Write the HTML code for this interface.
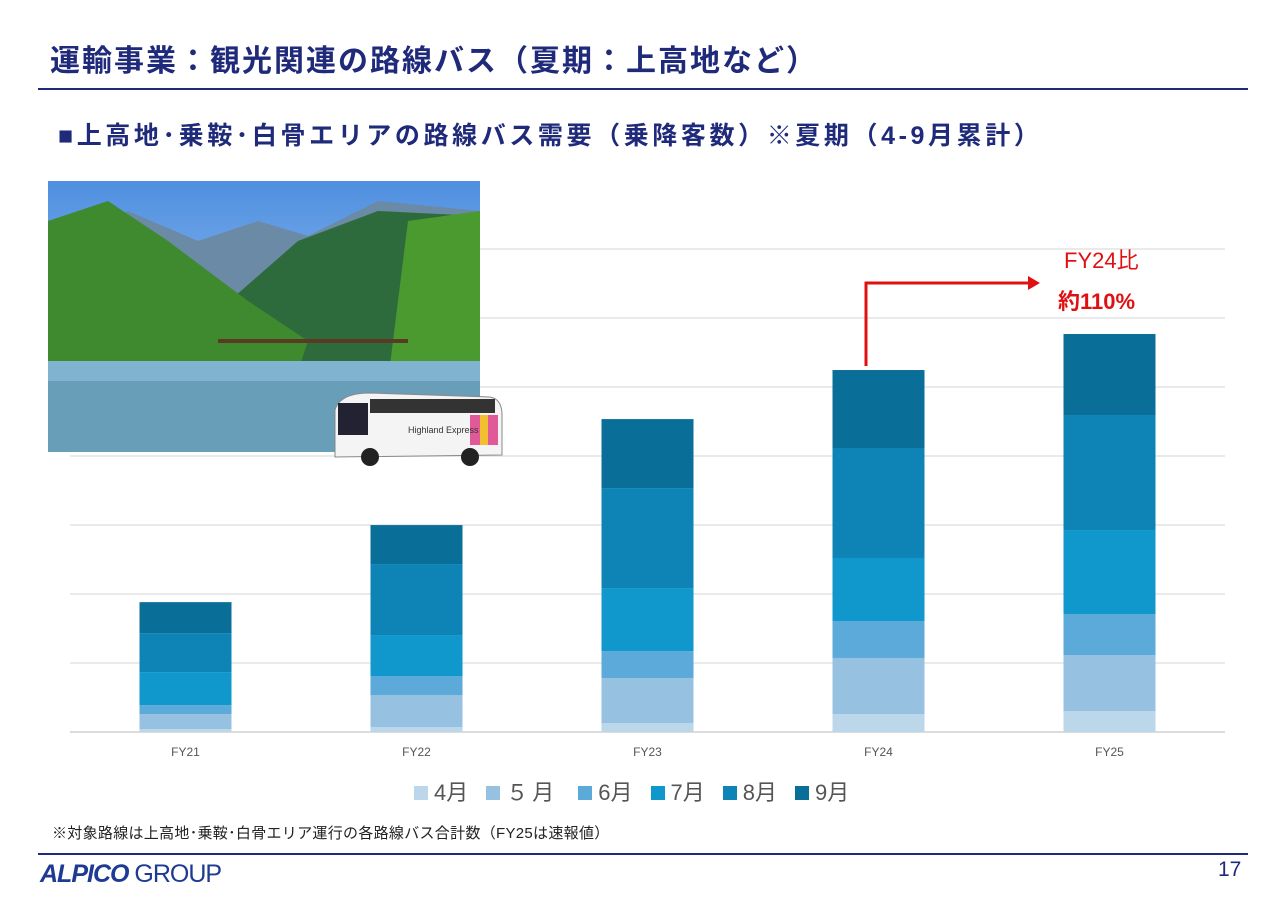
<!DOCTYPE html>
<html><head><meta charset="utf-8">
<style>
body{margin:0;width:1280px;height:904px;background:#fff;position:relative;overflow:hidden;font-family:"Liberation Sans","Noto Sans CJK JP",sans-serif;}
.abs{position:absolute;}
</style></head>
<body>
<div class="abs" style="left:50px;top:36px;font-size:30px;font-weight:bold;color:#1f2a7a;white-space:nowrap;letter-spacing:2px;">運輸事業：観光関連の路線バス（夏期：上高地など）</div>
<div class="abs" style="left:38px;top:88px;width:1210px;height:2px;background:#1f2a7a;"></div>
<div class="abs" style="left:58px;top:116px;font-size:25px;font-weight:bold;color:#1f2a7a;white-space:nowrap;letter-spacing:3.6px;">■上高地･乗鞍･白骨エリアの路線バス需要（乗降客数）※夏期（4-9月累計）</div>

<svg class="abs" style="left:0;top:0" width="1280" height="904">
  <g id="grid"></g>
  <g id="bars"></g>
  <g id="xlabels"></g>
</svg>

<!-- photo -->
<svg class="abs" style="left:48px;top:181px" width="432" height="271">
  <defs><linearGradient id="sky" x1="0" y1="0" x2="0" y2="1"><stop offset="0" stop-color="#4f8fe0"/><stop offset="1" stop-color="#b8d8f4"/></linearGradient></defs>
  <rect width="432" height="271" fill="url(#sky)"/>
  <polygon points="0,70 80,30 150,60 210,40 260,55 330,20 432,30 432,190 0,190" fill="#6a8aa6"/>
  <polygon points="170,130 250,60 330,30 432,35 432,190 170,190" fill="#2d6b3c"/>
  <polygon points="0,40 60,20 120,60 200,120 260,160 250,190 0,190" fill="#3f8a2e"/>
  <polygon points="360,40 432,30 432,200 340,200" fill="#4a9a30"/>
  <rect x="0" y="180" width="432" height="91" fill="#7fb3cf"/>
  <rect x="0" y="200" width="432" height="71" fill="#5a8fa8" opacity="0.6"/>
  <rect x="170" y="158" width="190" height="4" fill="#5a3a22"/>
</svg>
<!-- bus -->
<svg class="abs" style="left:330px;top:385px" width="175" height="85">
  <path d="M5,25 Q10,8 40,8 L160,12 Q172,14 172,30 L172,70 L5,72 Z" fill="#f4f4f4" stroke="#888"/>
  <rect x="8" y="18" width="30" height="32" fill="#223"/>
  <rect x="40" y="14" width="125" height="14" fill="#333"/>
  <rect x="140" y="30" width="28" height="30" fill="#e05a9a"/>
  <rect x="150" y="30" width="8" height="30" fill="#f0c030"/>
  <circle cx="40" cy="72" r="9" fill="#222"/><circle cx="140" cy="72" r="9" fill="#222"/>
  <text x="78" y="48" font-size="9" fill="#333" font-family="Liberation Sans">Highland Express</text>
</svg>

<!-- annotation -->
<svg class="abs" style="left:0;top:0" width="1280" height="904">
  <polyline points="866,366 866,283 1030,283" fill="none" stroke="#e01010" stroke-width="3"/>
  <polygon points="1028,276 1040,283 1028,290" fill="#e01010"/>
</svg>
<div class="abs" style="left:1064px;top:243px;font-size:22px;color:#e01010;">FY24比</div>
<div class="abs" style="left:1058px;top:284px;font-size:22px;font-weight:bold;color:#e01010;">約110%</div>

<div class="abs" style="left:414px;top:775px;font-size:22px;color:#555;white-space:nowrap;display:flex;" id="legend"></div>

<div class="abs" style="left:52px;top:822px;font-size:15px;color:#222;white-space:nowrap;letter-spacing:0.3px;">※対象路線は上高地･乗鞍･白骨エリア運行の各路線バス合計数（FY25は速報値）</div>
<div class="abs" style="left:38px;top:853px;width:1210px;height:2px;background:#1f2a7a;"></div>
<div class="abs" style="left:40px;top:860px;font-size:25px;color:#1f3a93;white-space:nowrap;letter-spacing:-1px;"><b style="font-style:italic">ALPICO</b> GROUP</div>
<div class="abs" style="left:1218px;top:858px;font-size:21px;color:#1f2a7a;">17</div>

<script>
const categories=["FY21","FY22","FY23","FY24","FY25"];
const months=["4月","５月","6月","7月","8月","9月"];
const colors=["#bcd6ea","#97c1e1","#5baad9","#1097cc","#0d84b5","#0a6f98"];
const apr=[0.43,0.72,1.3,2.61,3.04];
const may=[2.17,4.64,6.52,8.12,8.12];
const jun=[1.3,2.75,3.91,5.36,5.94];
const jul=[4.78,5.94,9.13,9.13,12.17];
const aug=[5.65,10.29,14.49,15.94,16.67];
const sep=[4.49,5.65,10,11.3,11.74];
const series=[apr,may,jun,jul,aug,sep];
const gridTicks=[0,10,20,30,40,50,60,70];
const NS="http://www.w3.org/2000/svg";
const x0=70,x1=1225,yBase=732,pxPerUnit=6.9,barW=92;
const band=(x1-x0)/categories.length;
const xc=i=>x0+band*(i+0.5);
const y=v=>yBase-v*pxPerUnit;
const g=document.getElementById('grid');
gridTicks.forEach(t=>{const l=document.createElementNS(NS,'line');
l.setAttribute('x1',x0);l.setAttribute('x2',x1);l.setAttribute('y1',y(t));l.setAttribute('y2',y(t));
l.setAttribute('stroke',t===0?'#d0d0d0':'#e3e3e3');l.setAttribute('stroke-width','1.5');


g.appendChild(l);});
const bg=document.getElementById('bars');
categories.forEach((c,i)=>{let acc=0;
series.forEach((s,k)=>{const r=document.createElementNS(NS,'rect');
r.setAttribute('x',xc(i)-barW/2);r.setAttribute('width',barW);
r.setAttribute('y',y(acc+s[i]));r.setAttribute('height',s[i]*pxPerUnit);
r.setAttribute('fill',colors[k]);


bg.appendChild(r);acc+=s[i];});
const t=document.createElementNS(NS,'text');t.setAttribute('x',xc(i));t.setAttribute('y',756);
t.setAttribute('text-anchor','middle');t.setAttribute('font-size','12');t.setAttribute('fill','#555');
t.setAttribute('font-family','Liberation Sans');t.textContent=c;


document.getElementById('xlabels').appendChild(t);});
const lg=document.getElementById('legend');
months.forEach((m,k)=>{const e=document.createElement('span');


e.style.marginRight=(k===1?'20px':'18px');
e.innerHTML='<span style="display:inline-block;width:14px;height:14px;background:'+colors[k]+';margin-right:6px;"></span>'+(k===1?'<span style="letter-spacing:4px">'+m+'</span>':m);
lg.appendChild(e);});
</script>
</body></html>
